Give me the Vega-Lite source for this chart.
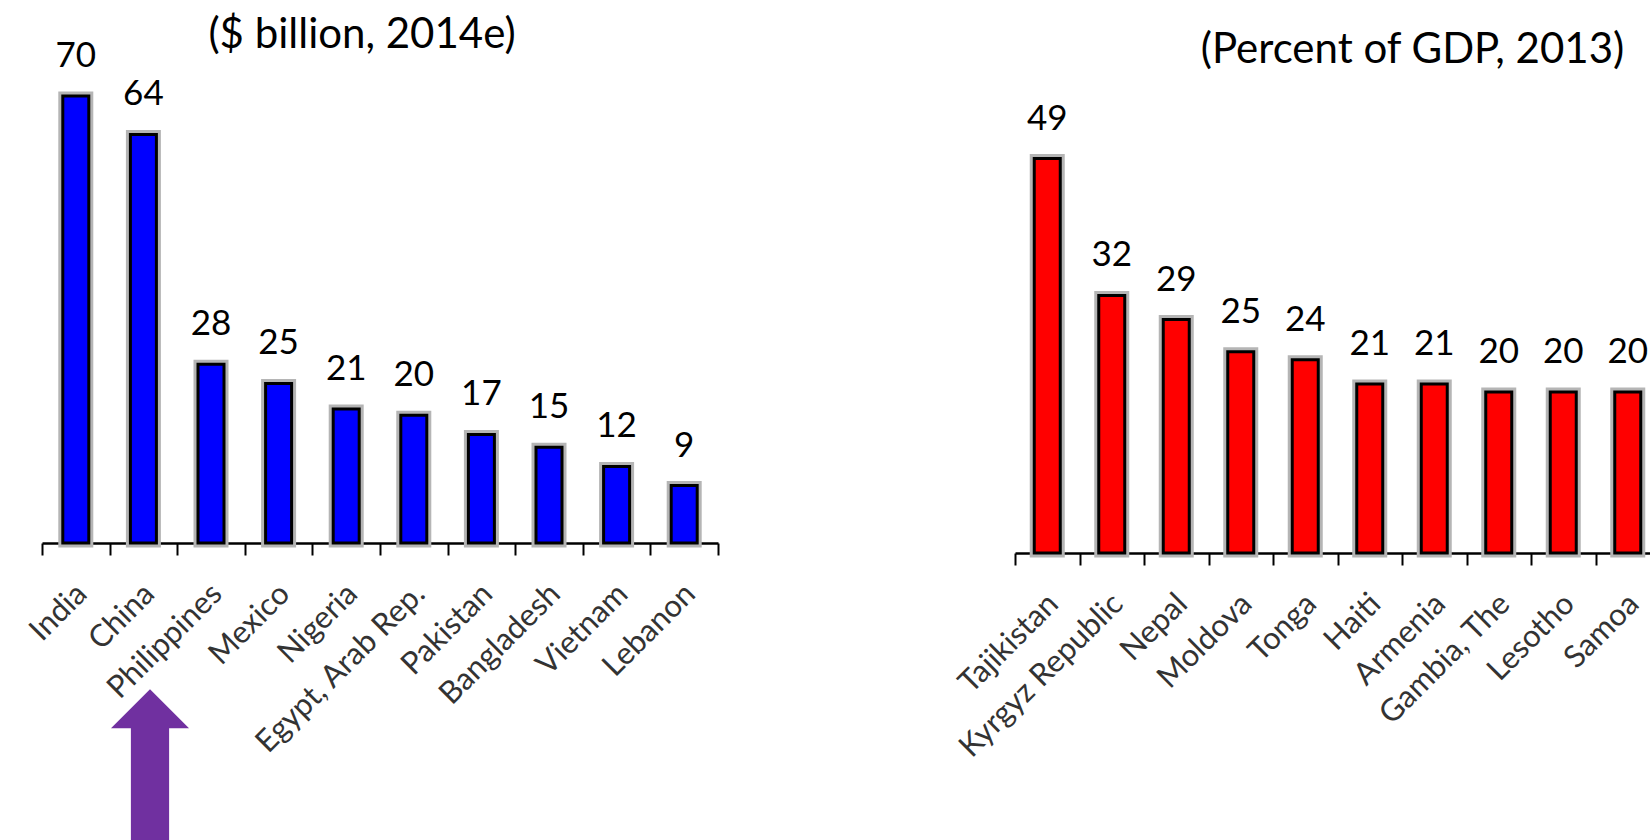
{
  "$schema": "https://vega.github.io/schema/vega-lite/v6.json",
  "background": "white",
  "padding": {"left": 23, "top": 14, "right": 0, "bottom": 0},
  "bounds": "flush",
  "spacing": 297,
  "config": {"view": {"stroke": null}, "font": "Lato"},
  "hconcat": [
    {
      "width": 676,
      "height": 475,
      "title": {"text": "($ billion, 2014e)", "font": "Lato", "fontSize": 42, "fontWeight": "normal", "color": "#000000", "anchor": "middle", "frame": "group", "baseline": "alphabetic", "offset": -51, "dx": -18},
      "data": {"values": [
        {"country": "India", "value": 70},
        {"country": "China", "value": 64},
        {"country": "Philippines", "value": 28},
        {"country": "Mexico", "value": 25},
        {"country": "Nigeria", "value": 21},
        {"country": "Egypt, Arab Rep.", "value": 20},
        {"country": "Pakistan", "value": 17},
        {"country": "Bangladesh", "value": 15},
        {"country": "Vietnam", "value": 12},
        {"country": "Lebanon", "value": 9}
      ]},
      "layer": [
        {
          "mark": {"type": "bar", "width": 26, "fill": "#b5b5b5", "stroke": "#b5b5b5", "strokeWidth": 9},
          "encoding": {
            "x": {"field": "country", "type": "nominal",
                  "scale": {"domain": ["India", "China", "Philippines", "Mexico", "Nigeria", "Egypt, Arab Rep.", "Pakistan", "Bangladesh", "Vietnam", "Lebanon"], "paddingInner": 0, "paddingOuter": 0},
                  "axis": {"title": null, "grid": false, "domainColor": "#000000", "domainWidth": 2.7, "tickColor": "#000000", "tickWidth": 2, "tickSize": 12, "tickBand": "extent",
                           "labelAngle": -45, "labelAlign": "right", "labelBaseline": "middle", "labelFont": "Lato", "labelFontSize": 31, "labelColor": "#333333",
                           "labelPadding": 34, "labelOffset": 6, "labelOverlap": false, "labelLimit": 0}},
            "y": {"field": "value", "type": "quantitative", "scale": {"domain": [0, 74.4], "nice": false}, "axis": null}
          }
        },
        {
          "mark": {"type": "bar", "width": 26, "fill": "#0000ff", "stroke": "#000000", "strokeWidth": 3},
          "encoding": {
            "x": {"field": "country", "type": "nominal"},
            "y": {"field": "value", "type": "quantitative"}
          }
        },
        {
          "mark": {"type": "text", "font": "Lato", "fontSize": 35, "color": "#000000", "baseline": "alphabetic", "align": "center", "dy": -29},
          "encoding": {
            "x": {"field": "country", "type": "nominal"},
            "y": {"field": "value", "type": "quantitative"},
            "text": {"field": "value", "type": "quantitative"}
          }
        },
        {
          "data": {"values": [{"country": "Philippines"}]},
          "mark": {"type": "point", "shape": "M0,-1L1,0L0.49,0L0.49,3.2L-0.49,3.2L-0.49,0L-1,0Z", "size": 6084, "filled": true, "fill": "#7030a0", "opacity": 1, "strokeWidth": 0, "xOffset": -61},
          "encoding": {
            "x": {"field": "country", "type": "nominal"},
            "y": {"datum": -29, "type": "quantitative"}
          }
        }
      ]
    },
    {
      "width": 645,
      "height": 485,
      "title": {"text": "(Percent of GDP, 2013)", "font": "Lato", "fontSize": 42, "fontWeight": "normal", "color": "#000000", "anchor": "middle", "frame": "group", "baseline": "alphabetic", "offset": -37, "dx": 75},
      "data": {"values": [
        {"country": "Tajikistan", "value": 49},
        {"country": "Kyrgyz Republic", "value": 32},
        {"country": "Nepal", "value": 29},
        {"country": "Moldova", "value": 25},
        {"country": "Tonga", "value": 24},
        {"country": "Haiti", "value": 21},
        {"country": "Armenia", "value": 21},
        {"country": "Gambia, The", "value": 20},
        {"country": "Lesotho", "value": 20},
        {"country": "Samoa", "value": 20}
      ]},
      "layer": [
        {
          "mark": {"type": "bar", "width": 26, "fill": "#b5b5b5", "stroke": "#b5b5b5", "strokeWidth": 9},
          "encoding": {
            "x": {"field": "country", "type": "nominal",
                  "scale": {"domain": ["Tajikistan", "Kyrgyz Republic", "Nepal", "Moldova", "Tonga", "Haiti", "Armenia", "Gambia, The", "Lesotho", "Samoa"], "paddingInner": 0, "paddingOuter": 0},
                  "axis": {"title": null, "grid": false, "domainColor": "#000000", "domainWidth": 2.7, "tickColor": "#000000", "tickWidth": 2, "tickSize": 12, "tickBand": "extent",
                           "labelAngle": -45, "labelAlign": "right", "labelBaseline": "middle", "labelFont": "Lato", "labelFontSize": 31, "labelColor": "#333333",
                           "labelPadding": 34, "labelOffset": 6, "labelOverlap": false, "labelLimit": 0}},
            "y": {"field": "value", "type": "quantitative", "scale": {"domain": [0, 60.25], "nice": false}, "axis": null}
          }
        },
        {
          "mark": {"type": "bar", "width": 26, "fill": "#ff0000", "stroke": "#000000", "strokeWidth": 3},
          "encoding": {
            "x": {"field": "country", "type": "nominal"},
            "y": {"field": "value", "type": "quantitative"}
          }
        },
        {
          "mark": {"type": "text", "font": "Lato", "fontSize": 35, "color": "#000000", "baseline": "alphabetic", "align": "center", "dy": -29},
          "encoding": {
            "x": {"field": "country", "type": "nominal"},
            "y": {"field": "value", "type": "quantitative"},
            "text": {"field": "value", "type": "quantitative"}
          }
        }
      ]
    }
  ]
}
